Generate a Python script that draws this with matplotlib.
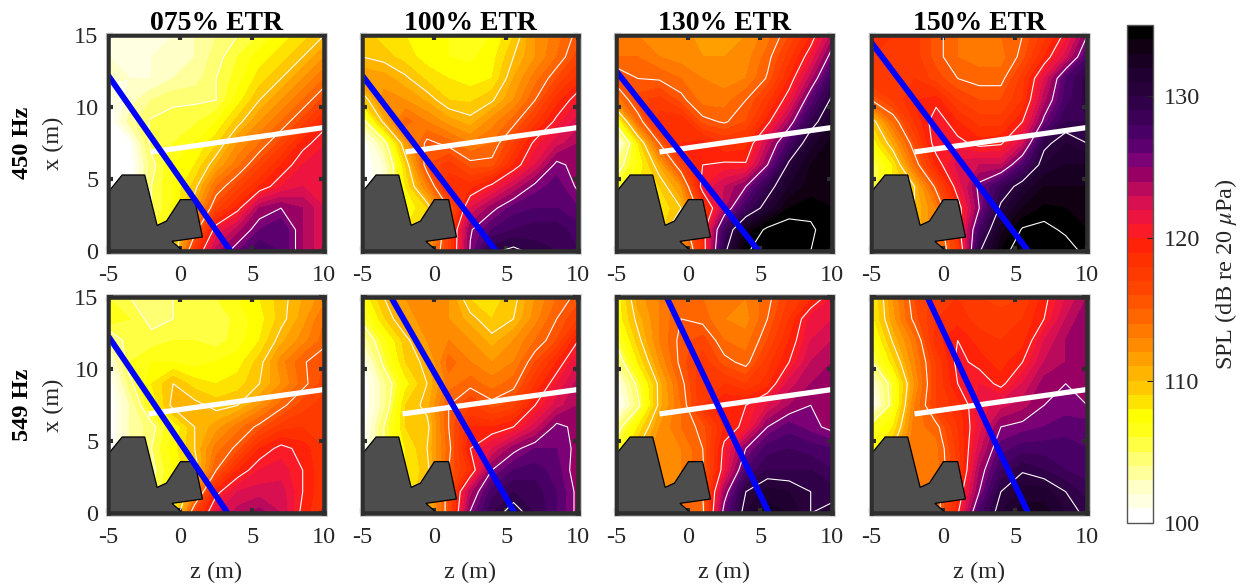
import numpy as np
import matplotlib
matplotlib.use("Agg")
import matplotlib.pyplot as plt
from matplotlib.colors import ListedColormap, BoundaryNorm
from matplotlib.cm import ScalarMappable
from matplotlib.patches import Polygon, Rectangle

plt.rcParams['font.family'] = ['Liberation Serif', 'DejaVu Serif']
plt.rcParams['mathtext.fontset'] = 'stix'

W, H = 1244, 584
z_grid = [-5, -3.5, -2, -0.5, 1, 2.5, 4, 5.5, 7, 8.5, 10]
x_grid = [15, 13.5, 12, 10.5, 9, 7.5, 6, 4.5, 3, 1.5, 0]

titles = ['075% ETR', '100% ETR', '130% ETR', '150% ETR']
row_labels = ['450 Hz', '549 Hz']
z_ticks = [-5, 0, 5, 10]
z_tick_labels = ['-5', '0', '5', '10']
x_ticks = [0, 5, 10, 15]
x_tick_labels = ['0', '5', '10', '15']
cb_ticks = [100, 110, 120, 130]
contour_levels = [105, 110, 115, 120, 125, 130, 135]

spl_450_075 = [
    [102, 101.5, 102, 102, 103, 104, 105, 106, 107.5, 108.5, 110],
    [102, 101.5, 102, 102.5, 103, 104.5, 106, 107.5, 108.5, 110, 112],
    [102.5, 102, 102, 103, 103.5, 105, 106.5, 108.5, 110, 112, 114],
    [100.5, 102.5, 104, 104.8, 104.8, 105, 107.5, 110, 112, 114, 116.5],
    [100, 103.5, 105.2, 105.4, 105.8, 107, 109.5, 112, 114, 116.5, 119.5],
    [100, 100.5, 105.5, 106, 107, 108.8, 112, 114, 116.5, 119.5, 120.8],
    [100, 100, 104.5, 107, 108, 111, 113.7, 116.5, 119, 121, 122],
    [100, 100, 105, 107, 109.5, 114, 116.5, 119, 121, 122, 122],
    [100, 100, 105, 107, 111, 116.5, 119.5, 124, 125, 124, 122],
    [100, 100, 105.5, 108, 114, 121, 123.5, 126, 127, 124, 122],
    [100, 100, 106, 108, 118, 123.5, 126, 128, 127, 124, 122],
]
spl_450_100 = [
    [109.5, 108.5, 108, 107.5, 107, 106.5, 107, 109, 112, 113.5, 115.5],
    [110, 109.5, 108.5, 107.5, 107, 106.8, 107.5, 110, 112, 114, 116.5],
    [112, 111.5, 110.3, 108.7, 108, 107.5, 108, 111, 113.5, 116, 118.5],
    [109, 112.5, 112, 110.8, 109, 108.8, 109.8, 112, 115, 118.5, 121],
    [104, 110.5, 114.5, 113, 111.5, 110.5, 112.5, 114.5, 117.5, 120.5, 122.5],
    [100, 104, 111.5, 115.5, 114.5, 113, 114, 117, 120.5, 122.5, 124],
    [100, 102, 109, 116, 117.5, 115.5, 115.5, 119, 122, 125.5, 124.3],
    [100, 102, 108, 113, 118.8, 118.5, 120.5, 123, 125.5, 126.5, 124.7],
    [100, 102, 107, 109, 115, 122, 124.5, 126.5, 127, 127, 126],
    [100, 102, 108, 110, 117, 124.8, 127, 128, 128.5, 128.5, 127.5],
    [100, 102, 108, 112, 117, 125.2, 129.7, 130.5, 129.5, 129, 128],
]
spl_450_130 = [
    [113.5, 113, 112.5, 112.5, 111.5, 111.5, 112, 113.5, 116, 119, 123.5],
    [114, 114, 113, 112.5, 112, 112, 112.5, 114.5, 117.5, 121, 126],
    [116, 115, 114.8, 114, 113, 112.5, 113, 115.2, 119, 123.5, 128.5],
    [113, 116.5, 117.5, 115.5, 113.5, 113.5, 115, 117.5, 121, 126.5, 130.5],
    [106, 114, 118.5, 119, 115.5, 114.8, 116, 119.5, 124, 129, 132],
    [100, 108, 115, 119, 119.5, 118, 118.5, 123, 127.5, 131.5, 133.5],
    [104, 107, 111, 116.5, 120, 120.3, 120.2, 125, 130.5, 133, 133.5],
    [106, 108, 109, 112, 121, 123, 125, 129, 132, 133.5, 134],
    [106, 108, 108, 110, 117, 123.5, 128, 131, 134, 134.5, 134],
    [106, 108, 108, 113, 119, 128, 133, 135.5, 136, 135.3, 134],
    [106, 108, 108, 110, 118.7, 129.5, 134.8, 136, 136.5, 135, 134],
]
spl_450_150 = [
    [118.5, 118, 117.5, 115.5, 114, 113.5, 114, 115, 117.5, 120.5, 125],
    [118, 118, 117.5, 115.5, 114, 113.5, 113.5, 115.5, 119, 122.5, 127],
    [118, 118, 118, 116.5, 115, 114.5, 114.5, 117.5, 122, 127, 129.5],
    [115, 117, 119, 119.5, 117, 116, 116, 118, 123.5, 127.5, 129.5],
    [109, 114, 118, 121, 119, 117.5, 117.5, 120, 125.5, 129, 129],
    [107, 111, 116, 121, 120.5, 119.5, 119.8, 122.5, 129.5, 131, 130],
    [105, 108, 114, 119, 122.5, 123, 123, 127, 131, 132, 132],
    [105, 108, 110, 115.5, 121, 125.5, 128.5, 131, 133, 133, 133],
    [105, 108, 110, 113, 119, 125, 130.5, 133, 134.2, 134, 133.5],
    [105, 108, 110, 113, 119, 127.5, 132.5, 135.2, 135.5, 134.7, 134],
    [105, 108, 110, 113, 117, 129.8, 134, 136.5, 137, 135.8, 134.5],
]
spl_549_075 = [
    [106, 105, 104.5, 105, 105.5, 106, 107, 108, 109.5, 111, 112.5],
    [107, 106, 104.5, 105, 105.2, 105, 106.5, 107.5, 109.5, 111.5, 114],
    [103, 106, 105.5, 106, 106, 105.5, 106.5, 108, 110.7, 112.5, 114.5],
    [101, 106, 107, 107, 106.5, 107, 107.5, 109.5, 112.5, 114.8, 116],
    [100, 104.5, 108, 110, 108.5, 108, 108.5, 110, 112, 114.5, 116.5],
    [100, 103, 107, 110.5, 110.5, 109.5, 110, 112, 114.5, 116.5, 117.5],
    [100, 103, 104.5, 107, 110, 111.5, 113.5, 115.5, 117.5, 118, 118],
    [100, 103, 105, 107.5, 110, 113.5, 115.5, 119, 120.5, 119.5, 118],
    [100, 103, 104.5, 107, 109, 115, 119, 121, 121.5, 120, 118],
    [100, 103, 105, 107, 112, 119.5, 122, 122.5, 122.5, 120, 118],
    [100, 103, 105, 107, 117, 122, 123.5, 124.5, 123, 119.5, 118],
]
spl_549_100 = [
    [107, 110, 112, 113, 112, 108.8, 108.5, 109.5, 112, 114, 115.5],
    [105.5, 108.8, 111.5, 112.5, 112, 110.5, 109, 110, 112.5, 115, 117],
    [103, 106.5, 109.5, 112, 113, 112, 110.5, 112, 114, 116, 120],
    [100.5, 105.5, 109, 110.5, 114.5, 113, 112, 113, 116, 119, 122],
    [100, 103.5, 107.5, 110, 113.5, 114.5, 113.5, 114.5, 118, 121, 123.5],
    [100, 103.5, 109, 110.5, 115, 117, 115.5, 116.5, 120, 122.5, 124],
    [100, 105, 109, 109.5, 115, 119, 119, 120, 122.5, 125.5, 124.5],
    [100, 105, 108, 110, 114.5, 120, 122, 124.5, 126, 126, 124.5],
    [100, 105, 108, 109.5, 115, 118.5, 125, 127, 127.5, 126.5, 124],
    [100, 105, 108, 110, 116, 123.5, 127.5, 129, 128.5, 127, 124.5],
    [100, 105, 108, 110, 116, 125.2, 129, 131, 129, 127, 124.5],
]
spl_549_130 = [
    [107, 111.5, 113, 114.5, 114, 113.5, 113, 114.5, 117, 118.5, 121],
    [107, 110.5, 113, 115, 114.5, 113, 112.5, 115, 118, 121.5, 122],
    [105.3, 109.5, 113, 115.5, 116.5, 114, 113.5, 116, 119, 122, 123],
    [103.5, 108, 112, 115.5, 117.5, 115.5, 114.5, 117.5, 120, 123, 124],
    [101, 105.5, 110.5, 114.5, 118, 118, 117, 118.5, 122.5, 124, 124.5],
    [100, 104.5, 110.5, 114, 118, 120, 120, 122, 124, 125, 124.5],
    [104, 108, 112, 114, 115.5, 119, 120.5, 125, 126.5, 125.5, 124.5],
    [106, 110, 113, 113, 115, 120.5, 125, 127.5, 128, 127.5, 127],
    [106, 110, 113, 113, 114.7, 121, 127, 129, 129, 129, 128],
    [106, 110, 113, 113, 115, 124, 130, 131.5, 131, 130, 129.5],
    [106, 110, 113, 114, 114.5, 126, 131, 132.5, 132, 130, 130.5],
]
spl_549_150 = [
    [107.5, 112, 116, 117.5, 118, 117, 116.5, 117, 119.5, 122, 124],
    [107.5, 111.5, 115.5, 118, 118.5, 117.5, 117.5, 118, 120, 123, 125],
    [106, 110.2, 113.5, 118.5, 120, 118.5, 118, 118.5, 122, 124, 125],
    [104.7, 108.5, 112.8, 117, 120.5, 119.5, 118.5, 120, 123, 124, 125],
    [101.5, 106, 112, 117, 120, 121, 119.5, 122, 124.5, 125, 125],
    [100, 106, 113, 117, 118.5, 121.5, 122.5, 123.5, 125, 125.5, 125],
    [106, 108, 113.5, 114.5, 118, 121.5, 125, 125.5, 126, 126.5, 126.5],
    [107, 110, 114, 113.5, 117.5, 122.5, 126.5, 127.5, 127.5, 127.5, 127],
    [107, 110, 114, 113.5, 117, 124, 128, 129.8, 129, 128, 127.5],
    [107, 110, 114, 114, 118.5, 125, 130, 131.5, 131.5, 130, 128.5],
    [107, 110, 114, 114, 119.8, 127.5, 131, 132.5, 132.5, 131, 129.5],
]
fields = [[spl_450_075, spl_450_100, spl_450_130, spl_450_150],
          [spl_549_075, spl_549_100, spl_549_130, spl_549_150]]

# blue line end points (z, x), per panel
blue_z = [[(-5, 3.5), (-5, 4.3), (-5, 4.9), (-5, 5.9)],
          [(-5, 3.3), (-3, 5.6), (-1.5, 5.6), (-1.1, 5.9)]]
blue_x = [[(12.2, 0), (12.2, 0), (12.5, 0), (14.5, 0)],
          [(12.3, 0), (15, 0), (15, 0), (15, 0)]]
white_z = [-2, 10]
white_x = [6.9, 8.6]
white_start = [[-2, -2, -2, -2], [-2.2, -2.2, -2, -2]]

wing_z = [-5, -4.04, -2.47, -1.61, -0.96, 0.01, 1.0, 1.54, -0.58, 0.2, -5]
wing_x = [4.12, 5.3, 5.3, 1.8, 2.1, 3.59, 3.59, 0.99, 0.69, 0, 0]

cmap_colors = ['#FFFFFF', '#FFFFE2', '#FFFFC8', '#FFFF9C', '#FFFF74', '#FFFF44', '#FFFF18',
               '#FFFF00', '#FFE300', '#FFC800', '#FFB400', '#FFA000', '#FF8C00', '#FF7800',
               '#FF6600', '#FF5500', '#FF4400', '#FF3A00', '#FF3000', '#FF2208',
               '#FA1A28', '#EE1440', '#D80F50', '#BA0A5C', '#980064', '#7C0076', '#5C0070',
               '#480066', '#3C0056', '#300048', '#28003A', '#200030', '#180022', '#100012',
               '#000000']
cmap = ListedColormap(cmap_colors)
cmap.set_under('#FFFFFF')
cmap.set_over('#000000')
levels = np.arange(100, 136)
norm = BoundaryNorm(levels, cmap.N)

INK = '#262626'
FRAME = '#2E2E2E'
FS = 17.5


def px_axes(fig, l, t, w, h):
    return fig.add_axes([l / W, 1 - (t + h) / H, w / W, h / H])


fig = plt.figure(figsize=(W / 100, H / 100), dpi=100)
lefts = [108.3, 362.3, 616.3, 871.3]
tops = [35.3, 297.3]
aw, ah = 216.0, 216.0

for r, top in enumerate(tops):
    for c, left in enumerate(lefts):
        ax = px_axes(fig, left, top, aw, ah)
        data = np.array(fields[r][c])
        ax.contourf(z_grid, x_grid, data, levels=levels, cmap=cmap, norm=norm, extend='both')
        ax.contour(z_grid, x_grid, data, levels=contour_levels, colors='white', linewidths=0.8)
        ax.add_patch(Polygon(np.column_stack([wing_z, wing_x]), closed=True,
                             facecolor='#4D4D4D', edgecolor='black', linewidth=0.9, zorder=3))
        ax.plot([white_start[r][c], white_z[1]], white_x, color='white', lw=3.8,
                solid_capstyle='butt', zorder=4)
        ax.plot(blue_z[r][c], blue_x[r][c], color='#0000FF', lw=4.2,
                solid_capstyle='butt', zorder=5)
        ax.set_xlim(-5, 10)
        ax.set_ylim(0, 15)
        ax.set_xticks(z_ticks)
        ax.set_xticklabels(z_tick_labels)
        ax.set_yticks(x_ticks)
        ax.set_yticklabels(x_tick_labels if c == 0 else [])
        ax.tick_params(direction='in', length=3.5, width=3, color=FRAME, top=True, right=True,
                       labelsize=FS, labelcolor=INK)
        ax.tick_params(axis='x', pad=10)
        ax.tick_params(axis='y', pad=7)
        for s in ax.spines.values():
            s.set_linewidth(3.3)
            s.set_color(FRAME)
            s.set_zorder(6)
        if r == 1:
            fig.text((left + aw / 2) / W, 1 - 572 / H, 'z (m)', ha='center', va='center',
                     fontsize=FS, color=INK)
        if c == 0:
            fig.text(53 / W, 1 - (top + ah / 2) / H, 'x (m)', rotation=90, ha='center',
                     va='center', fontsize=FS, color=INK)
            fig.text(23 / W, 1 - (top + ah / 2) / H, row_labels[r], rotation=90, ha='center',
                     va='center', fontsize=17.5, fontweight='bold', color='black')
        if r == 0:
            ax.set_title(titles[c], fontsize=20, fontweight='bold', color='black', pad=4)
        fig.add_artist(Rectangle(((left - 2.8) / W, 1 - (top + ah + 2.8) / H),
                                 (aw + 5.6) / W, (ah + 5.6) / H, transform=fig.transFigure,
                                 fill=False, edgecolor='#C8C8C8', linewidth=0.6))

cax = px_axes(fig, 1127, 25.2, 26, 497.5)
cb = fig.colorbar(ScalarMappable(norm=norm, cmap=cmap), cax=cax, ticks=cb_ticks, spacing='proportional')
cb.ax.minorticks_off()
cb.ax.tick_params(direction='in', length=4, width=0.8, color=INK, labelsize=FS, labelcolor=INK, pad=8)
cb.ax.set_yticklabels([str(t) for t in cb_ticks])
cb.outline.set_edgecolor('#555555')
cb.outline.set_linewidth(1.0)
fig.text(1226 / W, 1 - 274 / H, r'SPL (dB re 20 $\mu$Pa)', rotation=90, ha='center', va='center',
         fontsize=FS, color=INK)

fig.savefig('out.png', dpi=100)
